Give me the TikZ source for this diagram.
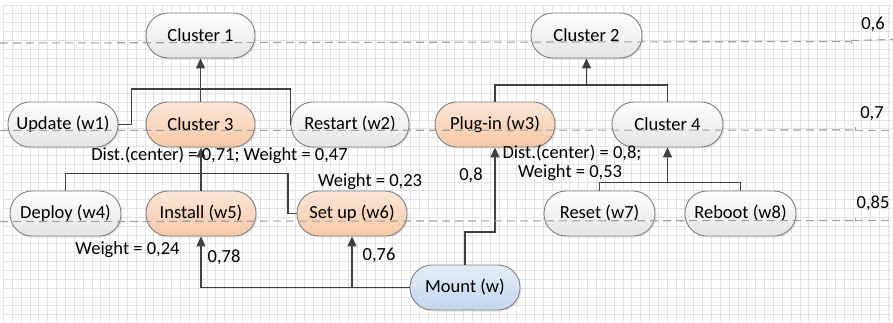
\documentclass[tikz,border=0pt]{standalone}
\usepackage{fontspec}
\setmainfont{Carlito}
\usetikzlibrary{arrows.meta,shadows,calc}
\definecolor{pillborder}{HTML}{808080}
\definecolor{linec}{HTML}{404040}
\definecolor{gridc}{HTML}{E3E3E3}
\definecolor{dashc}{HTML}{A0A0A0}
\definecolor{greytop}{HTML}{FFFFFF}
\definecolor{greybot}{HTML}{E4E4E4}
\definecolor{orangetop}{HTML}{FBE6D8}
\definecolor{orangebot}{HTML}{F6C8A6}
\definecolor{bluetop}{HTML}{E4EDF7}
\definecolor{bluebot}{HTML}{C2D6EB}
\tikzset{
  pill/.style={draw=pillborder, line width=0.9pt, rounded corners=22pt,
    minimum height=45pt, inner sep=0pt, align=center,
    font=\fontsize{18.5}{22}\selectfont,
    drop shadow={opacity=0.18, shadow xshift=1.5pt, shadow yshift=-1.5pt}},
  greypill/.style={pill, top color=greytop, bottom color=greybot},
  orangepill/.style={pill, top color=orangetop, bottom color=orangebot},
  bluepill/.style={pill, top color=bluetop, bottom color=bluebot},
  link/.style={draw=linec, line width=1.4pt},
  arr/.style={link, -{Triangle[length=10pt,width=9pt]}},
  lbl/.style={font=\fontsize{18.5}{22}\selectfont, inner sep=0pt, align=center},
  gridline/.style={draw=gridc, line width=0.6pt},
  level/.style={draw=dashc, line width=1.1pt, dash pattern=on 8pt off 5pt},
  tick/.style={draw=dashc, line width=0.8pt}
}
\begin{document}
\begin{tikzpicture}[x=1pt,y=-1pt]
\useasboundingbox (0,0) rectangle (893,322);
\fill[white] (0,0) rectangle (893,322);
% grid
\foreach \i in {0,...,100} { \draw[gridline] ({3.3+\i*8.85},4.8) -- ({3.3+\i*8.85},322); }
\foreach \j in {0,...,35} { \draw[gridline] (3.3,{4.8+\j*8.85}) -- (893,{4.8+\j*8.85}); }

% nodes
\node[greypill, minimum width=109pt] (c1) at (200.5,35.5) {Cluster 1};
\node[greypill, minimum width=111pt] (c2) at (586.5,35.5) {Cluster 2};
\node[greypill, minimum width=110pt] (w1) at (63,124.5) {Update (w1)};
\node[orangepill, minimum width=109pt] (c3) at (200.5,124.5) {Cluster 3};
\node[greypill, minimum width=118pt] (w2) at (350,124.5) {Restart (w2)};
\node[orangepill, minimum width=120pt] (w3) at (495,124.5) {Plug-in (w3)};
\node[greypill, minimum width=111pt] (c4) at (667.5,124.5) {Cluster 4};
\node[greypill, minimum width=111pt] (w4) at (65.5,213.5) {Deploy (w4)};
\node[orangepill, minimum width=110pt] (w5) at (201,213.5) {Install (w5)};
\node[orangepill, minimum width=110pt] (w6) at (352,213.5) {Set up (w6)};
\node[greypill, minimum width=111pt] (w7) at (599.5,213.5) {Reset (w7)};
\node[greypill, minimum width=111pt] (w8) at (740.5,213.5) {Reboot (w8)};
\node[bluepill, minimum width=110pt] (m) at (465,287.5) {Mount (w)};

% junctions
\coordinate (j1) at (c3.north |- 0,89);
\coordinate (j2) at (w5.north |- 0,173.5);
\coordinate (k6) at (288,213.5);
\coordinate (j3) at (w6.south |- m.west);
\coordinate (j4) at (w3.south |- 0,232);
\coordinate (j5) at (c2.south |- 0,85);
\coordinate (j6) at (c4.south |- 0,182.5);

% cluster 1
\draw[link] (w1.east) -- ++(13,0) |- (j1);
\draw[link] (j1) -| (w2.west);
\draw[arr] (c3.north) -- (c1.south);
% cluster 3
\draw[link] (w4.north) |- (j2);
\draw[link] (j2) -| (k6) -- (w6.west);
\draw[arr] (w5.north) -- (w5.north |- c3.south);
% mount
\draw[arr] (m.west) -| (w5.south);
\draw[arr] (j3) -- (w6.south);
\draw[arr] (m.north) |- (j4) -- (w3.south);
% cluster 2
\draw[link] (w3.north) |- (j5) -| (c4.north);
\draw[arr] (j5) -- (c2.south);
% cluster 4
\draw[link] (w7.north) |- (j6) -| (w8.north);
\draw[arr] (j6) -- (c4.south);

% labels
\node[lbl] (l1) at (219.5,155.5) {Dist.(center) = 0,71; Weight = 0,47};
\node[lbl] (l2) at (370,181.5) {Weight = 0,23};
\node[lbl] (l3) at (127.5,250) {Weight = 0,24};
\node[lbl] (l4) at (224,257) {0,78};
\node[lbl] (l5) at (379,255) {0,76};
\node[lbl] (l6) at (471,175) {0,8};
\node[lbl] (l7) at (572,153) {Dist.(center) = 0,8;};
\node[lbl] (l8) at (570,172.5) {Weight = 0,53};
\node[lbl] (v1) at (873,24) {0,6};
\node[lbl] (v2) at (872,114) {0,7};
\node[lbl] (v3) at (873,203) {0,85};

% level lines
\draw[level] (0,43) -- (851,41.5);
\draw[tick] (851,41.5) -- (851,44);
\draw[level] (851,40.5) -- (893,39.5);
\draw[level] (0,130.5) -- (855,130);
\draw[tick] (855,130) -- (855,127);
\draw[level] (855,130.5) -- (893,130.5);
\draw[level] (0,221.5) -- (855,220.5);
\draw[tick] (855,220.5) -- (855,217.5);
\draw[level] (855,220.5) -- (893,220.5);
\end{tikzpicture}
\end{document}
